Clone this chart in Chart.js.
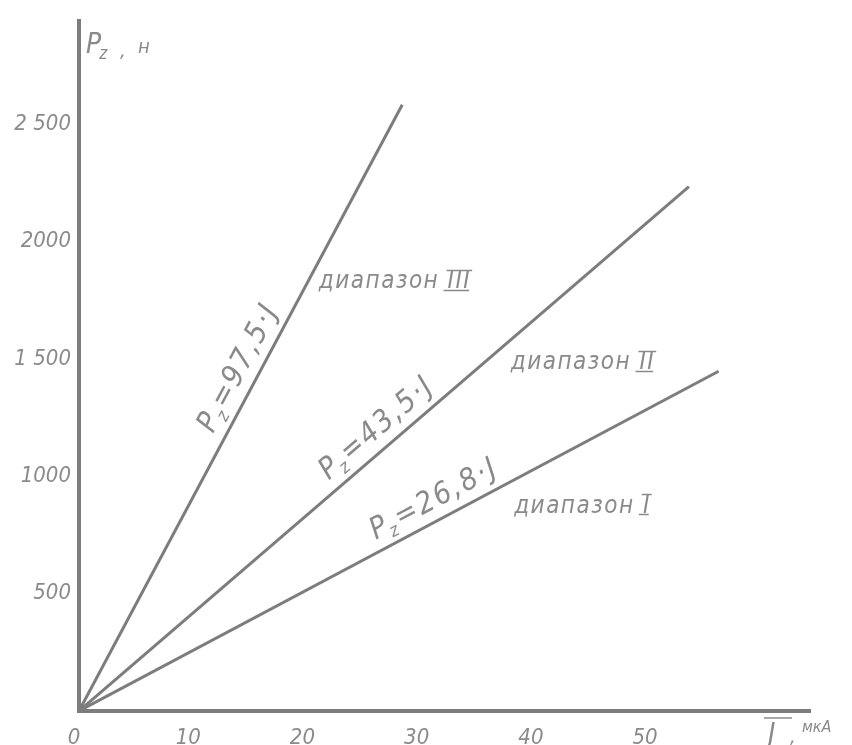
<!DOCTYPE html>
<html>
<head>
<meta charset="utf-8">
<script src="https://cdn.jsdelivr.net/npm/chart.js@4.4.0/dist/chart.umd.min.js"></script>
<style>
  html, body { margin: 0; padding: 0; background: #ffffff; }
  #chart { display: block; }
</style>
</head>
<body>
<canvas id="chart" width="852" height="745"></canvas>
<script>
// data
const xTicks = [0, 10, 20, 30, 40, 50];
const yTicks = [500, 1000, 1500, 2000, 2500];
const yTickLabels = ["500", "1000", "1 500", "2000", "2 500"];

const rangeNames = ["диапазон I", "диапазон II", "диапазон III"];
const formulaCoef = ["26,8", "43,5", "97,5"];

const currentI = [0, 56.0];
const forceI = [0, 1448];
const currentII = [0, 53.4];
const forceII = [0, 2235];
const currentIII = [0, 28.3];
const forceIII = [0, 2584];

const ink = "#7d7d7d";
const textInk = "#8a8a8a";
const hand = "'Liberation Sans Narrow', 'DejaVu Sans Condensed', 'Liberation Sans', sans-serif";

function toPoints(xs, ys) {
  return xs.map((x, i) => ({ x: x, y: ys[i] }));
}

// P with subscript z followed by the rest of the formula
function drawPz(ctx, x, y, big, rest) {
  ctx.font = "italic " + big + "px " + hand;
  ctx.fillText("P", x, y);
  let w = ctx.measureText("P").width;
  ctx.font = "italic " + Math.round(big * 0.6) + "px " + hand;
  ctx.fillText("z", x + w - 2, y + big * 0.2);
  w += ctx.measureText("z").width - 1;
  ctx.font = "italic " + big + "px " + hand;
  ctx.fillText(rest, x + w, y);
  return w + ctx.measureText(rest).width;
}

function widthPz(ctx, big, rest) {
  ctx.font = "italic " + big + "px " + hand;
  let w = ctx.measureText("P").width + ctx.measureText(rest).width;
  ctx.font = "italic " + Math.round(big * 0.6) + "px " + hand;
  return w + ctx.measureText("z").width - 1;
}

// formula along each line: fraction of the line, offset from it
const formulaPlace = [
  { frac: 0.57, off: 12 },
  { frac: 0.51, off: 12 },
  { frac: 0.55, off: 12 }
];
// range label anchors in data units
const rangeAnchorX = [38.1, 37.8, 21.0];
const rangeAnchorY = [846, 1456, 1801];

const labelsPlugin = {
  id: "handLabels",
  afterDatasetsDraw(chart) {
    const ctx = chart.ctx;
    const xs = chart.scales.x;
    const ys = chart.scales.y;
    ctx.save();
    ctx.fillStyle = textInk;
    ctx.strokeStyle = textInk;
    ctx.textBaseline = "alphabetic";
    ctx.textAlign = "left";

    chart.data.datasets.forEach((ds, i) => {
      const pts = chart.getDatasetMeta(i).data;
      const a = pts[0], b = pts[pts.length - 1];
      const ang = Math.atan2(b.y - a.y, b.x - a.x);
      const p = formulaPlace[i];
      const cx = a.x + (b.x - a.x) * p.frac;
      const cy = a.y + (b.y - a.y) * p.frac;
      const rest = "=" + formulaCoef[i] + "·J";
      ctx.letterSpacing = "2px";
      const w = widthPz(ctx, 30, rest);
      ctx.save();
      ctx.translate(cx, cy);
      ctx.rotate(ang);
      drawPz(ctx, -w / 2, -p.off, 30, rest);
      ctx.restore();

      // range name
      const rx = xs.getPixelForValue(rangeAnchorX[i]);
      const ry = ys.getPixelForValue(rangeAnchorY[i]);
      ctx.letterSpacing = "1.5px";
      ctx.font = "italic 24px " + hand;
      const name = rangeNames[i];
      ctx.fillText(name, rx, ry);
      const roman = name.split(" ")[1];
      const full = ctx.measureText(name).width;
      const rw = ctx.measureText(roman).width;
      ctx.lineWidth = 1.5;
      ctx.beginPath();
      ctx.moveTo(rx + full - rw - 1, ry - 18);
      ctx.lineTo(rx + full + 1, ry - 18);
      ctx.moveTo(rx + full - rw - 4, ry + 2);
      ctx.lineTo(rx + full - 2, ry + 2);
      ctx.stroke();
    });
    ctx.letterSpacing = "0px";

    // axis titles
    drawPz(ctx, 86, 53, 28, "");
    ctx.font = "italic 20px " + hand;
    ctx.fillText(",", 120, 57);
    ctx.fillText("н", 138, 53);

    ctx.font = "italic 28px " + hand;
    ctx.fillText("J", 768, 743);
    ctx.lineWidth = 1.5;
    ctx.beginPath();
    ctx.moveTo(764, 718);
    ctx.lineTo(792, 718);
    ctx.stroke();
    ctx.font = "italic 20px " + hand;
    ctx.fillText(",", 790, 743);
    ctx.font = "italic 16px " + hand;
    ctx.fillText("мкА", 802, 732);
    ctx.restore();
  }
};

const lineStyle = {
  borderColor: ink,
  borderWidth: 3,
  pointRadius: 0,
  fill: false,
  tension: 0
};

new Chart(document.getElementById("chart"), {
  type: "line",
  data: {
    datasets: [
      Object.assign({ label: rangeNames[0], data: toPoints(currentI, forceI) }, lineStyle),
      Object.assign({ label: rangeNames[1], data: toPoints(currentII, forceII) }, lineStyle),
      Object.assign({ label: rangeNames[2], data: toPoints(currentIII, forceIII) }, lineStyle)
    ]
  },
  options: {
    responsive: false,
    animation: false,
    layout: { padding: { left: 0, top: 12, right: 42, bottom: 0 } },
    plugins: {
      legend: { display: false },
      tooltip: { enabled: false }
    },
    scales: {
      x: {
        type: "linear",
        min: 0,
        max: 64,
        grid: { display: false, drawTicks: false },
        border: { display: true, color: ink, width: 4 },
        afterBuildTicks: (s) => { s.ticks = xTicks.map((v) => ({ value: v })); },
        afterFit: (s) => { s.height = 34; },
        ticks: {
          color: textInk,
          padding: 14,
          labelOffset: -5,
          maxRotation: 0,
          font: { family: hand, style: "italic", size: 22 }
        }
      },
      y: {
        type: "linear",
        min: 0,
        max: 2940,
        grid: { display: false, drawTicks: false },
        border: { display: true, color: ink, width: 4 },
        afterBuildTicks: (s) => { s.ticks = yTicks.map((v) => ({ value: v })); },
        afterFit: (s) => { s.width = 79; },
        ticks: {
          color: textInk,
          padding: 8,
          font: { family: hand, style: "italic", size: 22 },
          callback: (v) => {
            const i = yTicks.indexOf(v);
            return i >= 0 ? yTickLabels[i] : "";
          }
        }
      }
    }
  },
  plugins: [labelsPlugin]
});
</script>
</body>
</html>
